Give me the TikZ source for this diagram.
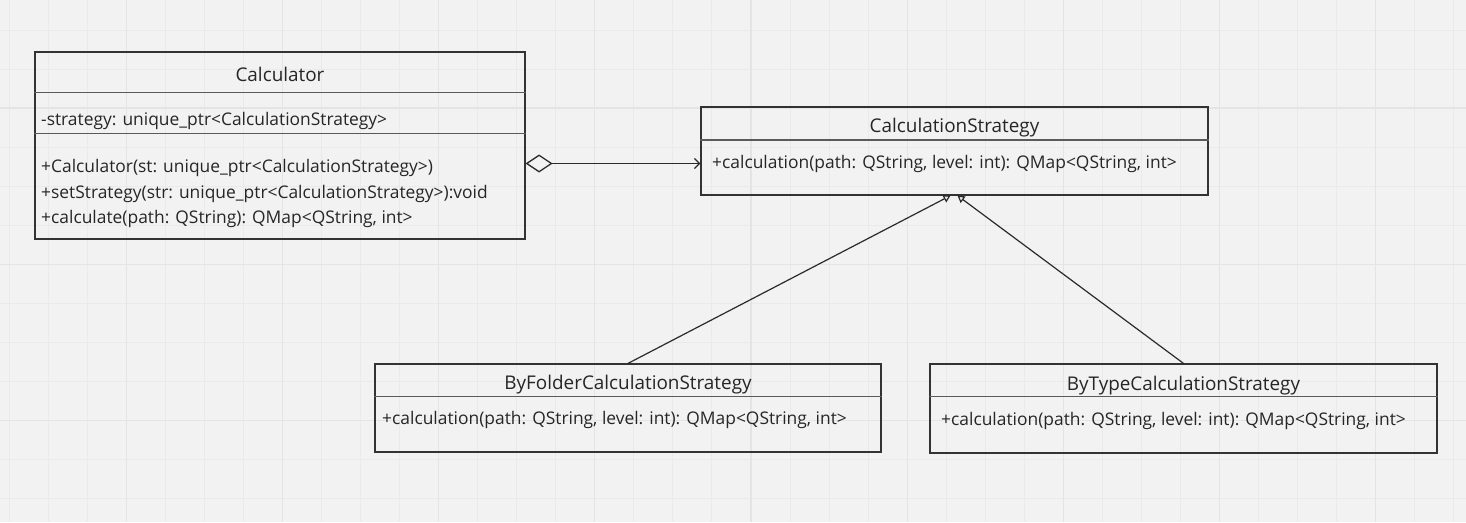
\documentclass[tikz,border=0pt]{standalone}
\usepackage{fontspec}
\setmainfont{Open Sans}
\usetikzlibrary{arrows.meta}
\definecolor{bg}{HTML}{F2F2F2}
\definecolor{gridminor}{HTML}{EAEAEA}
\definecolor{gridmajor}{HTML}{E4E4E4}
\definecolor{boxc}{HTML}{333333}
\definecolor{divc}{HTML}{5A5A5A}
\definecolor{txtc}{HTML}{262626}
\definecolor{linec}{HTML}{2A2A2A}
\begin{document}
\begin{tikzpicture}[x=1pt,y=-1pt,
  cls/.style={draw=boxc, line width=1.2pt, rectangle, inner sep=0pt},
  divline/.style={draw=divc, line width=1.1pt},
  txt/.style={text=txtc, inner sep=0pt, font=\fontsize{17.4}{20}\selectfont, anchor=base west},
  ttl/.style={text=txtc, inner sep=0pt, font=\fontsize{18.9}{22}\selectfont, anchor=base},
  gminor/.style={draw=gridminor, line width=0.9pt},
  gmajor/.style={draw=gridmajor, line width=1.3pt},
  agg/.style={draw=linec, line width=1.3pt, {Diamond[open, length=27pt, width=18pt, line width=1.3pt]}-{Straight Barb[length=5pt, width=10pt, line width=1.3pt]}},
  inh/.style={draw=linec, line width=1.2pt, -{Triangle[open, length=7pt, width=8pt, line width=1.2pt]}}
]
\fill[bg] (0,0) rectangle (1466,522);
\useasboundingbox (0,0) rectangle (1466,522);
% grid
\foreach \k in {0,...,37} {\pgfmathsetmacro\xx{9+39.05*\k}\draw[gminor] (\xx,0) -- (\xx,522);}
\foreach \k in {0,...,12} {\pgfmathsetmacro\yy{30+39.05*\k}\draw[gminor] (0,\yy) -- (1466,\yy);}
\foreach \k in {3,7,...,35} {\pgfmathsetmacro\xx{9+39.05*\k}\draw[gmajor] (\xx,0) -- (\xx,522);}
\foreach \k in {2,6,10} {\pgfmathsetmacro\yy{30+39.05*\k}\draw[gmajor] (0,\yy) -- (1466,\yy);}

% Calculator
\node[cls, minimum width=490pt, minimum height=187pt] (calc) at (280,145.5) {};
\node[ttl] (calcT) at (280,81) {Calculator};
\draw[divline] (calc.west |- 0,92.5) -- (calc.east |- 0,92.5);
\node[txt] (calcA) at (41,125) {-strategy: unique\_ptr<CalculationStrategy>};
\draw[divline] (calc.west |- 0,133.5) -- (calc.east |- 0,133.5);
\node[txt] (calcM1) at (41,172.5) {+Calculator(st: unique\_ptr<CalculationStrategy>)};
\node[txt] (calcM2) at (41,198) {+setStrategy(str: unique\_ptr<CalculationStrategy>):void};
\node[txt] (calcM3) at (41,223.5) {+calculate(path: QString): QMap<QString, int>};

% CalculationStrategy
\node[cls, minimum width=507pt, minimum height=88pt] (cs) at (954.5,151) {};
\node[ttl] (csT) at (954.5,132) {CalculationStrategy};
\draw[divline] (cs.west |- 0,140) -- (cs.east |- 0,140);
\node[txt] (csM) at (712,168) {+calculation(path: QString, level: int): QMap<QString, int>};

% ByFolderCalculationStrategy
\node[cls, minimum width=506pt, minimum height=88pt] (bf) at (628,408) {};
\node[ttl] (bfT) at (628,389.5) {ByFolderCalculationStrategy};
\draw[divline] (bf.west |- 0,396.5) -- (bf.east |- 0,396.5);
\node[txt] (bfM) at (382,424.5) {+calculation(path: QString, level: int): QMap<QString, int>};

% ByTypeCalculationStrategy
\node[cls, minimum width=507pt, minimum height=89pt] (bt) at (1183.5,408.5) {};
\node[ttl] (btT) at (1183.5,390) {ByTypeCalculationStrategy};
\draw[divline] (bt.west |- 0,396.5) -- (bt.east |- 0,396.5);
\node[txt] (btM) at (941,425) {+calculation(path: QString, level: int): QMap<QString, int>};

% connectors
\coordinate (aggY) at (0,163.5);
\draw[agg] (calc.east |- aggY) -- (cs.west |- aggY);
\draw[inh] (bf.north) -- ([xshift=-4pt]cs.south);
\draw[inh] (bt.north) -- ([xshift=3pt]cs.south);
\end{tikzpicture}
\end{document}
